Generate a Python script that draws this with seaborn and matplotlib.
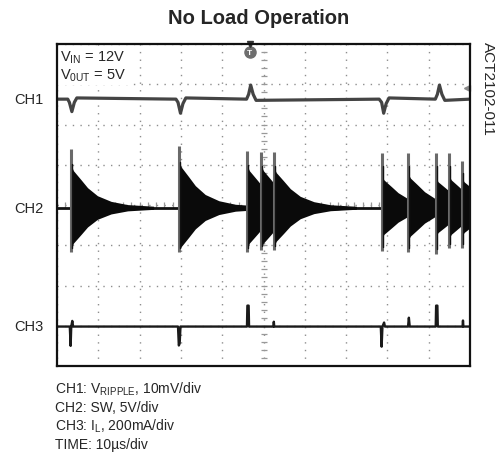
import numpy as np
import pandas as pd
import seaborn as sns
import matplotlib.pyplot as plt

# time in us (10us/div, 10 div), levels in scope divisions (8 div)

# CH1: output ripple trace, baseline ~6.63 div
ch1_t = [0, 2.6, 3.0, 3.6, 4.2, 4.8, 28.8, 29.3, 29.9, 30.5, 31.2,
         45.9, 46.4, 46.9, 47.5, 48.2, 78.0, 78.6, 79.1, 79.7, 80.4,
         91.6, 92.1, 92.6, 93.2, 93.9, 100]
ch1_v = [6.63, 6.63, 6.55, 6.32, 6.55, 6.66, 6.63, 6.55, 6.28, 6.52, 6.66,
         6.63, 6.75, 6.98, 6.75, 6.60, 6.63, 6.55, 6.28, 6.52, 6.66,
         6.63, 6.75, 6.98, 6.75, 6.60, 6.63]

# CH2: SW node, baseline and ringing bursts
ch2_base = 3.93
ch2_burst_t = [3.4, 29.5, 46.0, 49.4, 52.5, 78.6, 85.0, 91.7, 94.9, 98.0]
ch2_spike_top = [1.45, 1.53, 1.41, 1.38, 1.38, 1.37, 1.37, 1.37, 1.37, 1.16]
ch2_spike_bot = [-1.11, -1.10, -1.10, -1.05, -1.05, -1.08, -1.10, -1.15, -1.0, -1.0]
ch2_ring_amp = [1.0, 1.1, 1.0, 1.0, 0.95, 0.75, 0.8, 0.7, 0.75, 0.7]
# envelope of the ringing after each turn-on (read from the first burst)
ring_dt = [0.25, 0.6, 2.4, 4.0, 6.4, 9.7, 13.7, 20.0]
ring_env = [1.0, 0.92, 0.70, 0.50, 0.30, 0.16, 0.08, 0.04]

# CH3: inductor current
ch3_t = [0, 3.1, 3.3, 3.45, 3.7, 3.9, 29.3, 29.5, 29.7, 29.9,
         46.0, 46.1, 46.4, 46.5, 52.4, 52.5, 52.6,
         78.4, 78.6, 78.8, 79.2, 79.4, 85.0, 85.2, 85.4,
         91.7, 91.8, 92.1, 92.2, 98.2, 98.3, 98.4, 100]
ch3_v = [0.98, 0.98, 0.50, 0.98, 1.12, 0.98, 0.98, 0.51, 0.56, 0.98,
         0.98, 1.50, 1.50, 0.98, 0.98, 1.10, 0.98,
         0.98, 0.48, 0.98, 1.08, 0.98, 0.98, 1.20, 0.98,
         0.98, 1.50, 1.50, 0.98, 0.98, 1.13, 0.98, 0.98]

trig_t = 46.7

sns.set_style("white")
plt.rcParams['font.family'] = ['Liberation Sans', 'DejaVu Sans']
plt.rcParams['mathtext.default'] = 'regular'

fig = plt.figure(figsize=(5.03, 4.56), dpi=100)
ax = fig.add_axes([57 / 503, 1 - 367 / 456, 413 / 503, 322 / 456])
ax.set_xlim(0, 100)
ax.set_ylim(0, 8)
ax.set_xticks(np.arange(0, 101, 10))
ax.set_yticks(np.arange(0, 9, 1))
ax.tick_params(length=0, labelbottom=False, labelleft=False)
ax.grid(True, color='#8e8e8e', lw=1.0, ls=(0, (1, 4.5)))
for s in ax.spines.values():
    s.set_color('#111111')
    s.set_linewidth(1.6)
    s.set_zorder(6)

# center cross with minor marks
minor_y = np.arange(0, 8.01, 0.2)
minor_x = np.arange(0, 100.1, 2)
ax.plot([50] * len(minor_y), minor_y, ls='none', marker='_', ms=5, color='#999999', mew=0.9, zorder=1)
ax.plot(minor_x, [4] * len(minor_x), ls='none', marker='|', ms=5, color='#999999', mew=0.9, zorder=1)

# CH1
sns.lineplot(x=ch1_t, y=ch1_v, ax=ax, color='#444444', lw=2.3, estimator=None, sort=False, zorder=4)

# CH2
ax.plot([0, 100], [ch2_base, ch2_base], color='#111111', lw=2.0, zorder=4)
for t0, amp in zip(ch2_burst_t, ch2_ring_amp):
    xs = [t0 + d for d in ring_dt]
    up = [ch2_base + amp * e for e in ring_env]
    dn = [ch2_base - 0.95 * amp * e for e in ring_env]
    ax.fill_between(xs, dn, up, color='#0a0a0a', lw=0, zorder=4)
for t0, top, bot in zip(ch2_burst_t, ch2_spike_top, ch2_spike_bot):
    ax.plot([t0, t0], [ch2_base + bot, ch2_base + top], color='#6a6a6a', lw=2.2,
            solid_capstyle='butt', zorder=5)
    ax.plot([t0 + 0.35, t0 + 0.35], [ch2_base + bot * 0.9, ch2_base + top * 0.75],
            color='#111111', lw=1.0, zorder=5)

# CH3
sns.lineplot(x=ch3_t, y=ch3_v, ax=ax, color='#1a1a1a', lw=1.7, estimator=None, sort=False, zorder=4)

# trigger and level markers
ax.plot([trig_t], [7.8], marker='o', ms=8, color='#6e6e6e', ls='none', clip_on=False, zorder=5)
ax.text(trig_t, 7.8, 'T', color='white', fontsize=6, fontweight='bold', ha='center', va='center', zorder=6)
ax.plot([trig_t], [8.0], marker='v', ms=4, color='#333333', ls='none', clip_on=False, zorder=6)
ax.plot([99.2], [6.9], marker='<', ms=5, color='#8a8a8a', ls='none', clip_on=False, zorder=5)

ax.text(0.008, 0.985, 'V$_{IN}$ = 12V\nV$_{0UT}$ = 5V', transform=ax.transAxes,
        fontsize=10.5, ha='left', va='top', linespacing=1.15, zorder=6,
        bbox=dict(facecolor='white', edgecolor='none', pad=1.5))

# labels outside the screen
fig.text(259 / 503, 1 - 19 / 456, 'No Load Operation', fontsize=14.5, fontweight='bold',
         ha='center', va='center')
for name, ypx in [('CH1', 100), ('CH2', 209), ('CH3', 327)]:
    fig.text(14 / 503, 1 - ypx / 456, name, fontsize=10.5, ha='left', va='center')
fig.text(488 / 503, 1 - 42 / 456, 'ACT2102-011', fontsize=11, rotation=270,
         ha='center', va='top')

notes = ['CH1: V$_{RIPPLE}$, 10mV/div', 'CH2: SW, 5V/div',
         'CH3: I$_{L}$, 200mA/div', 'TIME: 10µs/div']
for i, line in enumerate(notes):
    fig.text(55 / 503, 1 - (389 + 18.6 * i) / 456, line, fontsize=10, ha='left', va='center')

fig.savefig('out.png', dpi=100)
